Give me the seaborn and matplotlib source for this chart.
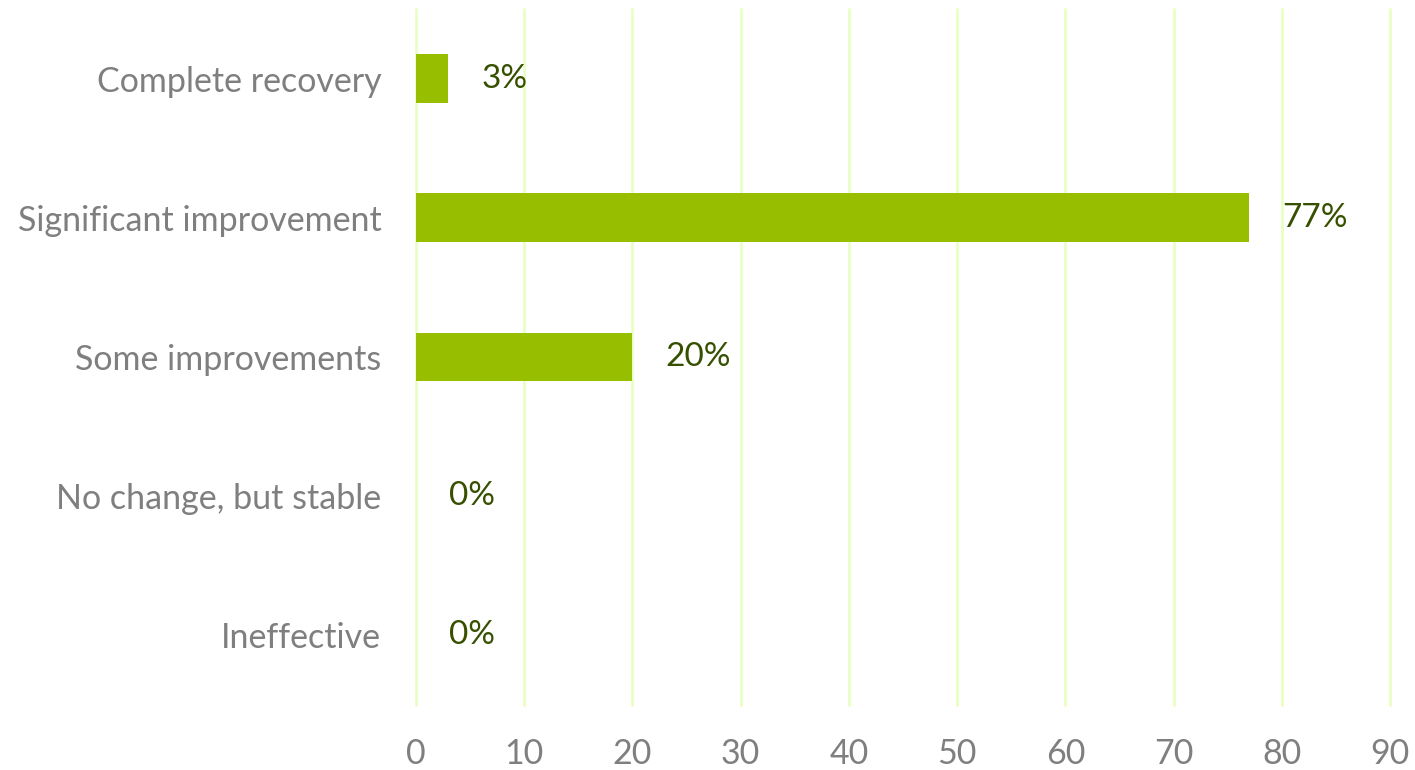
import matplotlib
matplotlib.use("Agg")
import matplotlib.pyplot as plt
import seaborn as sns
import pandas as pd

categories = ["Complete recovery", "Significant improvement", "Some improvements",
              "No change, but stable", "Ineffective"]
values = [3, 77, 20, 0, 0]
xticks = [0, 10, 20, 30, 40, 50, 60, 70, 80, 90]

sns.set_theme(style="white")
plt.rcParams["font.family"] = ["Lato", "DejaVu Sans"]

df = pd.DataFrame({"category": categories, "value": values})

fig = plt.figure(figsize=(14.15, 7.7), dpi=100)
ax = fig.add_axes([416 / 1415, 1 - 705 / 770, (1390 - 416) / 1415, (705 - 9) / 770])

sns.barplot(data=df, x="value", y="category", orient="h", color="#98BE00",
            saturation=1, width=0.35, linewidth=0, ax=ax)

ax.set_xlim(0, 90)
ax.set_ylim(4.5, -0.5)
ax.set_xticks(xticks)
ax.set_xticklabels([str(t) for t in xticks])
ax.grid(axis="x", color="#E8FFC4", linewidth=2)
ax.grid(axis="y", visible=False)
for gl in ax.get_xgridlines():
    gl.set_clip_on(False)
ax.set_axisbelow(True)
for s in ax.spines.values():
    s.set_visible(False)
ax.tick_params(axis="both", length=0, colors="#7F7F7F", labelsize=24.5)
ax.tick_params(axis="x", pad=24)
ax.tick_params(axis="y", pad=25)
ax.set_xlabel("")
ax.set_ylabel("")

for i, v in enumerate(values):
    ax.annotate(f"{v}%", xy=(v, i), xytext=(33, 0), textcoords="offset pixels",
                ha="left", va="center", fontsize=24, color="#375000")

fig.savefig("out.png", dpi=100)
